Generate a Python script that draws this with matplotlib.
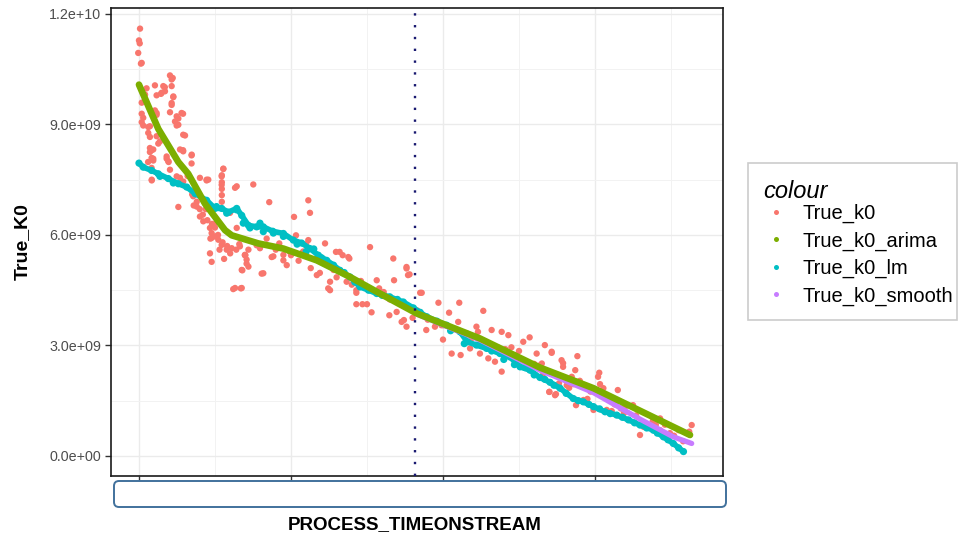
import matplotlib
matplotlib.use("Agg")
import matplotlib.pyplot as plt
from matplotlib.patches import FancyBboxPatch, Rectangle
from matplotlib.lines import Line2D
from matplotlib.transforms import IdentityTransform

plt.rcParams['font.family'] = ['Liberation Sans', 'DejaVu Sans']

# ---------------- data (x = time index, y in units of 1e9) ----------------
red_x = [0.7, 0, 0.5, -0.5, 1.3, 20.4, 21.5, 5, 10.5, 17, 14.5, 11.6, 22.6, 1.8, 21.5, 20.4, 10.5, 11.6,
         29, 25.9, 1.8, 24.8, 6.1, 30.3, 7.2, 12.7, 8.3, 29, 34.6, 9.4, 18.2, 34.6, 6, 19.5, 2.8, 1.8, 7.2,
         9.4, 8.4, 25.9, 35, 38, 40, 42, 36, 44.5, 45, 48, 50, 52, 47, 55, 53, 58, 60, 56, 64, 66, 70, 72,
         46.7, 47.8, 62, 67, 80.7, 68, 70.8, 69.7, 54.5, 54.5, 54.5, 54.5, 54.5, 55.5, 63.2, 75.2, 85.7,
         111.4, 112.5, 102, 103.3, 111.4, 110, 108, 122.4, 129.6, 134, 138.4, 152, 167.3, 176, 178, 167.8,
         87.3, 95, 97.2, 90, 117, 119, 124.5, 125.7, 136.6, 143, 143, 147, 150, 153, 156.4, 158, 161,
         164.7, 169.5, 174.3, 176, 77.4, 89.5, 92.3, 132, 137.7, 143, 125.7, 185, 130, 100, 105, 113, 140,
         176, 177, 186, 197, 210.7, 204, 226.5, 210, 222, 223, 232, 238.6, 243, 257, 252.8, 267, 261.6,
         271.5, 172.8, 189, 200, 205.7, 211.6, 217.8, 224.3, 229.8, 234.2, 238.6, 247.4, 255, 266, 269.9,
         273.7, 200.2, 194.7, 215.6, 228.7, 180, 183, 190, 245, 250, 260,
         271.5, 278, 279, 279, 288.4, 287, 284.7, 290, 302.8, 302, 303.3, 305.5, 315, 325, 342.8, 363.6,
         270, 274.3, 287.5, 299, 292.4, 295, 307.7, 311, 317, 319, 332, 329.6, 335, 342.8, 349.3, 362,
         281.4, 283, 276.3, 265, 310, 320, 338, 355, 346,
         1.8, 22.2, 16, 17.1, 14.9, 21.5, 4, 22.6, 21.5, 11.6, 28, 24.8, 2.8, 23.7, 7.2, 25.9, 6.1, 29.1,
         11.6, 13.8, 7.2, 9.4, 27, 29.1, 8.3, 18.2, 19.3, 34.7, 8.3, 20.4, 55.5, 54.4, 40.1, 44.5, 27,
         29.1, 8.4, 64.3, 54.4, 45.6, 35.7, 38, 40.1, 42.3, 46.7, 47.8, 50, 52.2, 54.4, 47.8, 57.7, 61,
         66.4, 69.7, 70.8, 72, 67.6, 63.2, 67.6, 81.8, 79.6, 88.4, 95, 64.3, 59.9, 24.8, 32, 37, 44, 51,
         84, 99, 107, 121, 128, 146, 158, 165, 190, 199, 208, 219, 236, 241, 253, 263, 286, 297, 313,
         327, 340, 352, 358]
red_y = [11.6, 11.28, 11.2, 10.94, 10.65, 10.33, 10.22, 9.98, 10.06, 10.01, 9.83, 9.79, 9.74, 9.59, 9.53,
         9.33, 9.38, 9.26, 9.29, 9.16, 9.06, 8.97, 8.93, 8.70, 8.66, 8.48, 8.30, 8.30, 8.16, 8.07, 8.07,
         7.94, 7.98, 7.98, 8.97, 9.29, 8.25, 8.02, 7.48, 6.76, 7.1, 6.9, 6.7, 6.55, 6.8, 7.48, 6.4, 6.3,
         6.2, 6.0, 5.9, 5.8, 5.6, 5.7, 5.5, 5.35, 5.6, 5.75, 5.45, 5.6, 5.50, 5.27, 4.53, 4.55, 4.95, 5.04,
         5.22, 5.45, 7.62, 7.43, 7.25, 7.08, 6.90, 7.80, 7.28, 7.37, 6.89, 6.94, 6.60, 6.49, 5.99, 5.86,
         5.75, 5.55, 5.77, 5.54, 5.45, 5.36, 5.67, 5.36, 5.09, 4.93, 4.77, 5.40, 5.31, 5.18, 5.6, 4.91,
         4.97, 4.55, 4.73, 4.73, 4.50, 4.12, 4.12, 4.12, 3.90, 4.77, 4.55, 4.45, 3.82, 3.91, 3.69, 3.51,
         5.72, 5.67, 5.77, 5.54, 5.40, 4.43, 4.50, 4.43, 4.85, 5.45, 5.3, 5.1, 4.65,
         5.13, 4.91, 4.43, 4.16, 4.16, 3.89, 3.94, 3.64, 3.51, 3.37, 3.42, 3.37, 3.28, 3.22, 3.10, 3.01,
         2.78, 2.83, 3.64, 3.42, 3.16, 2.78, 2.74, 2.92, 2.78, 2.65, 2.56, 2.29, 2.74, 2.51, 2.24, 1.74,
         1.65, 3.55, 3.51, 3.33, 3.06, 3.75, 3.95, 3.7, 2.95, 2.85, 2.5,
         2.80, 2.60, 2.42, 2.52, 2.71, 2.33, 2.15, 2.04, 2.26, 2.15, 1.95, 1.84, 1.79, 1.38, 1.02, 0.84,
         1.74, 1.68, 1.38, 1.25, 1.52, 1.55, 1.25, 1.22, 1.29, 1.16, 0.79, 0.57, 0.78, 0.70, 0.62, 0.66,
         1.92, 1.85, 1.97, 2.51, 1.55, 1.35, 0.95, 0.7, 0.85,
         10.67, 10.26, 10.04, 9.90, 9.86, 10.04, 9.81, 9.76, 9.58, 9.31, 9.31, 9.22, 9.18, 9.08, 8.95,
         8.99, 8.77, 8.72, 8.68, 8.54, 8.36, 8.32, 8.32, 8.27, 8.09, 8.13, 8.00, 8.18, 7.82, 7.77, 7.79,
         7.59, 7.55, 7.50, 7.55, 7.45, 7.50, 7.32, 7.36, 7.50, 7.05, 6.77, 6.50, 6.37, 6.19, 6.05, 5.96,
         5.87, 5.73, 5.92, 5.60, 5.64, 5.69, 5.46, 5.33, 5.14, 5.05, 4.56, 4.56, 4.96, 5.64, 5.42, 5.46,
         6.19, 6.60, 7.59, 7.6, 7.2, 6.7, 6.35, 5.9, 5.55, 5.5, 5.25, 5.05, 4.75, 4.5, 4.25, 3.75, 3.55,
         3.45, 3.2, 2.95, 2.9, 2.6, 2.45, 1.95, 1.75, 1.4, 1.1, 0.85, 0.55, 0.4]

lm_x = [0, 2.8, 8.3, 12.7, 19.3, 25.9, 31.4, 37, 44.5, 50, 54.4, 58.8, 64.3, 67.6, 72, 77.4, 81.8, 88,
        95, 101.5, 107, 112.5, 118, 123.5, 128, 132.2, 138.8, 145.4, 151, 156.4, 165, 173.9, 180.5,
        189.3, 196, 202.4, 211.2, 216, 222, 228.7, 237.5, 244, 250.7, 257.2, 263.8, 270.4, 277, 285.7,
        292.3, 299, 306.6, 314.3, 322, 329.6, 338.4, 345, 351.5, 358.2,
        13.8, 22.6, 51, 57.7, 64.3, 68.6, 73, 79.6, 81.8, 88.4, 95, 104, 110, 115, 120, 126, 135, 142,
        148, 160, 170, 185, 205, 214, 225, 232, 240, 247, 254, 260, 267, 273, 281, 289, 296, 303, 310,
        318, 326, 334, 341, 348, 355]
lm_y = [7.95, 7.84, 7.75, 7.66, 7.53, 7.39, 7.30, 7.12, 6.94, 6.72, 6.72, 6.62, 6.72, 6.53, 6.26, 6.22,
        6.22, 6.10, 6.04, 5.86, 5.78, 5.63, 5.45, 5.31, 5.18, 5.04, 4.86, 4.59, 4.50, 4.41, 4.32, 4.18,
        4.02, 3.78, 3.66, 3.55, 3.37, 3.10, 3.01, 2.92, 2.78, 2.69, 2.42, 2.33, 2.13, 2.00, 1.84, 1.56,
        1.47, 1.34, 1.20, 1.11, 0.98, 0.84, 0.70, 0.52, 0.34, 0.12,
        7.59, 7.41, 6.77, 6.59, 6.68, 6.32, 6.19, 6.32, 6.09, 6.05, 5.96, 5.75, 5.55, 5.62, 5.38, 5.20,
        4.98, 4.72, 4.62, 4.36, 4.25, 3.90, 3.40, 3.05, 3.02, 2.85, 2.62, 2.48, 2.40, 2.20, 2.08, 1.92,
        1.70, 1.50, 1.40, 1.28, 1.15, 1.05, 0.90, 0.76, 0.62, 0.44, 0.22]
lm_line_n = 58  # first points form the fitted path

arima_x = [0, 12.7, 25.9, 32.4, 43.4, 56.6, 61, 78.5, 95, 117, 138.8, 160.7, 182.7, 224.3, 263.8,
           299, 331, 362.5]
arima_y = [10.08, 8.88, 7.98, 7.66, 6.85, 6.13, 5.99, 5.77, 5.63, 5.31, 4.86, 4.36, 3.87, 3.19, 2.40,
           1.84, 1.20, 0.57]

smooth_x = [182.7, 224.3, 263.8, 299, 314.3, 329.6, 351.5, 363.6]
smooth_y = [3.85, 3.15, 2.33, 1.72, 1.36, 1.00, 0.52, 0.34]

vline_x = 181.6
x_ticks = [0, 100, 200, 300]
x_minor = [50, 150, 250, 350]
y_ticks = [0.0, 3e9, 6e9, 9e9, 1.2e10]
y_minor = [1.5e9, 4.5e9, 7.5e9, 1.05e10]
y_tick_labels = ["0.0e+00", "3.0e+09", "6.0e+09", "9.0e+09", "1.2e+10"]
series_names = ["True_k0", "True_k0_arima", "True_k0_lm", "True_k0_smooth"]
colors = ["#F8766D", "#7CAE00", "#00BFC4", "#C77CFF"]
legend_title = "colour"

scale = 1e9
red_y = [v * scale for v in red_y]
lm_y = [v * scale for v in lm_y]
arima_y = [v * scale for v in arima_y]
smooth_y = [v * scale for v in smooth_y]

# ---------------- figure ----------------
W, H = 959, 536
fig = plt.figure(figsize=(W / 100, H / 100), dpi=100)
ax = fig.add_axes([111 / W, 1 - 476 / H, 612 / W, 468 / H])

ax.set_xlim(-18.4, 384.2)
ax.set_ylim(-0.543e9, 12.16e9)

ax.set_xticks(x_ticks)
ax.set_xticks(x_minor, minor=True)
ax.set_yticks(y_ticks)
ax.set_yticks(y_minor, minor=True)
ax.set_xticklabels([""] * len(x_ticks))
ax.set_yticklabels(y_tick_labels)

ax.grid(True, which='major', color='#EBEBEB', lw=1.0, zorder=0)
ax.grid(True, which='minor', color='#F2F2F2', lw=0.7, zorder=0)
ax.set_axisbelow(True)
ax.tick_params(which='major', length=4, width=1, color='#333333', labelsize=10.3,
               labelcolor='#4D4D4D', pad=3)
ax.tick_params(which='minor', length=0)
for s in ax.spines.values():
    s.set_color('#1a1a1a')
    s.set_linewidth(1.2)

# marks
ax.scatter(red_x, red_y, s=21, color=colors[0], edgecolors='none', zorder=2)
ax.plot(lm_x[:lm_line_n], lm_y[:lm_line_n], color=colors[2], lw=4.0, solid_capstyle='round',
        solid_joinstyle='round', zorder=3)
ax.scatter(lm_x, lm_y, s=27, color=colors[2], edgecolors='none', zorder=3)
ax.plot(smooth_x, smooth_y, color=colors[3], lw=3.8, solid_capstyle='round', zorder=4)
ax.plot(arima_x, arima_y, color=colors[1], lw=4.8, solid_capstyle='round',
        solid_joinstyle='round', zorder=5)
ax.axvline(vline_x, color='#191970', lw=1.7, linestyle=(0, (1, 4)), zorder=6)

# labels
ax.set_ylabel("True_K0", fontsize=14, fontweight='bold', color='black')
ax.yaxis.set_label_coords((22 - 111) / 612, 0.5)
ax.yaxis.label.set_verticalalignment('center')
ax.set_xlabel("PROCESS_TIMEONSTREAM", fontsize=13.5, fontweight='bold', color='black')
ax.xaxis.set_label_coords((415 - 111) / 612, -(516 - 476) / 468)

# rounded box covering x tick labels (pixel coordinates, origin bottom-left)
box = FancyBboxPatch((114, H - 507), 612, 26, boxstyle="round,pad=0,rounding_size=5",
                     transform=IdentityTransform(), facecolor='white', edgecolor='#41719C',
                     lw=1.4, figure=fig)
fig.patches.append(box)

# legend frame + title
frame = Rectangle((748, H - 320), 209, 157, transform=IdentityTransform(), facecolor='white',
                  edgecolor='#CCCCCC', lw=1.2, figure=fig)
fig.patches.append(frame)
fig.text(763 / W, 1 - 191 / H, legend_title, fontsize=17, style='italic', ha='left',
         va='center', color='black')

handles = [Line2D([], [], marker='o', linestyle='none', markersize=3.6,
                  markerfacecolor=c, markeredgecolor='none') for c in colors]
leg = fig.legend(handles, series_names, loc='upper left',
                 bbox_to_anchor=(763 / W, 1 - 204 / H), fontsize=14.5,
                 frameon=False, borderpad=0, labelspacing=0.41, handletextpad=0.65,
                 handlelength=1.3, borderaxespad=0)

fig.savefig("out.png", dpi=100, facecolor='white')
